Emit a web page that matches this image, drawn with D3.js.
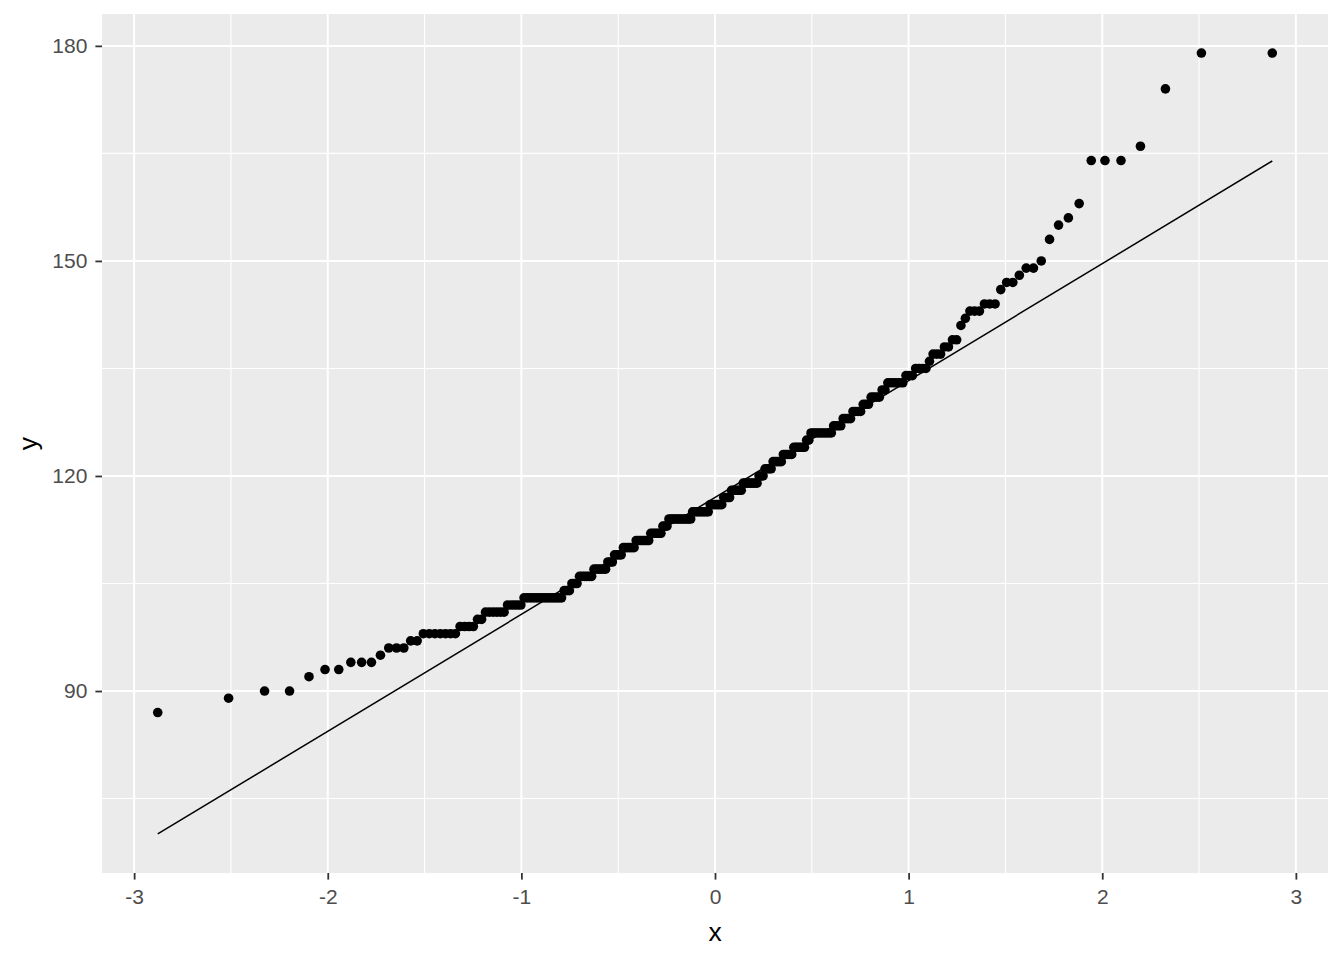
<!DOCTYPE html>
<html>
<head>
<meta charset="utf-8">
<script src="https://cdn.jsdelivr.net/npm/d3@7"></script>
<style>
  body { margin: 0; background: #ffffff; }
  svg { display: block; }
</style>
</head>
<body>
<svg id="chart" width="1344" height="960"></svg>
<script>
// ---- Data (sorted sample values) ----
const sampleValues = [
  87, 89, 90, 90, 92, 93, 93, 94, 94, 94, 95, 96, 96, 96, 97, 97,
  98, 98, 98, 98, 98, 98, 98,
  99, 99, 99, 99,
  100, 100,
  101, 101, 101, 101, 101, 101,
  102, 102, 102, 102, 102,
  103, 103, 103, 103, 103, 103, 103, 103, 103, 103, 103, 103, 103, 103,
  104, 104, 104,
  105, 105, 105,
  106, 106, 106, 106, 106, 106,
  107, 107, 107, 107, 107, 107,
  108, 108, 108,
  109, 109, 109, 109,
  110, 110, 110, 110, 110, 110,
  111, 111, 111, 111, 111, 111, 111,
  112, 112, 112, 112, 112, 112,
  113, 113, 113,
  114, 114, 114, 114, 114, 114, 114, 114, 114, 114, 114, 114,
  115, 115, 115, 115, 115, 115, 115, 115, 115,
  116, 116, 116, 116, 116, 116, 116,
  117, 117, 117, 117,
  118, 118, 118, 118, 118, 118,
  119, 119, 119, 119, 119, 119, 119, 119,
  120, 120, 120,
  121, 121, 121, 121,
  122, 122, 122, 122, 122,
  123, 123, 123, 123, 123,
  124, 124, 124, 124, 124, 124,
  125, 125,
  126, 126, 126, 126, 126, 126, 126, 126, 126, 126,
  127, 127, 127, 127,
  128, 128, 128, 128,
  129, 129, 129, 129,
  130, 130, 130,
  131, 131, 131, 131,
  132, 132,
  133, 133, 133, 133, 133, 133,
  134, 134, 134,
  135, 135, 135, 135,
  136,
  137, 137, 137,
  138, 138,
  139, 139,
  141, 142,
  143, 143, 143,
  144, 144, 144,
  146, 147, 147, 148, 149, 149, 150, 153, 155, 156, 158,
  164, 164, 164, 166, 174, 179, 179
];
const xTicks = [-3, -2, -1, 0, 1, 2, 3];
const xMinorTicks = [-2.5, -1.5, -0.5, 0.5, 1.5, 2.5];
const yTicks = [90, 120, 150, 180];
const yMinorTicks = [75, 105, 135, 165];
const xTitle = "x";
const yTitle = "y";

// ---- Inverse standard normal CDF (theoretical quantiles for the QQ plot) ----
function qnorm(p) {
  const a = [-3.969683028665376e+01, 2.209460984245205e+02, -2.759285104469687e+02,
             1.383577518672690e+02, -3.066479806614716e+01, 2.506628277459239e+00];
  const b = [-5.447609879822406e+01, 1.615858368580409e+02, -1.556989798598866e+02,
             6.680131188771972e+01, -1.328068155288572e+01];
  const c = [-7.784894002430293e-03, -3.223964580411365e-01, -2.400758277161838e+00,
             -2.549732539343734e+00, 4.374664141464968e+00, 2.938163982698783e+00];
  const d = [7.784695709041462e-03, 3.224671290700398e-01, 2.445134137142996e+00,
             3.754408661907416e+00];
  const pl = 0.02425, ph = 1 - pl;
  let q, r;
  if (p < pl) {
    q = Math.sqrt(-2 * Math.log(p));
    return (((((c[0]*q+c[1])*q+c[2])*q+c[3])*q+c[4])*q+c[5]) /
           ((((d[0]*q+d[1])*q+d[2])*q+d[3])*q+1);
  }
  if (p > ph) {
    q = Math.sqrt(-2 * Math.log(1 - p));
    return -(((((c[0]*q+c[1])*q+c[2])*q+c[3])*q+c[4])*q+c[5]) /
            ((((d[0]*q+d[1])*q+d[2])*q+d[3])*q+1);
  }
  q = p - 0.5; r = q * q;
  return (((((a[0]*r+a[1])*r+a[2])*r+a[3])*r+a[4])*r+a[5])*q /
         (((((b[0]*r+b[1])*r+b[2])*r+b[3])*r+b[4])*r+1);
}

const sorted = sampleValues.slice().sort((u, v) => u - v);
const n = sorted.length;
const points = sorted.map((v, i) => ({ x: qnorm((i + 0.5) / n), y: v }));

// QQ line through the quartiles
const q1 = d3.quantile(sorted, 0.25), q3 = d3.quantile(sorted, 0.75);
const z1 = qnorm(0.25), z3 = qnorm(0.75);
const slope = (q3 - q1) / (z3 - z1);
const intercept = q1 - slope * z1;
const xMin = d3.min(points, d => d.x), xMax = d3.max(points, d => d.x);
const linePts = [xMin, xMax].map(x => ({ x: x, y: intercept + slope * x }));

// ---- Layout ----
const W = 1344, H = 960;
const panel = { left: 102, right: 1328, top: 14, bottom: 873 };

function expand(lo, hi) { const e = (hi - lo) * 0.05; return [lo - e, hi + e]; }
const xDom = expand(xMin, xMax);
const yLo = Math.min(d3.min(points, d => d.y), d3.min(linePts, d => d.y));
const yHi = Math.max(d3.max(points, d => d.y), d3.max(linePts, d => d.y));
const yDom = expand(yLo, yHi);

const x = d3.scaleLinear().domain(xDom).range([panel.left, panel.right]);
const y = d3.scaleLinear().domain(yDom).range([panel.bottom, panel.top]);

const svg = d3.select("#chart");
const font = "'Liberation Sans', Arial, Helvetica, sans-serif";

svg.append("rect").attr("width", W).attr("height", H).attr("fill", "#ffffff");

svg.append("rect")
  .attr("x", panel.left).attr("y", panel.top)
  .attr("width", panel.right - panel.left).attr("height", panel.bottom - panel.top)
  .attr("fill", "#EBEBEB");

const grid = svg.append("g");
grid.selectAll(".xminor").data(xMinorTicks).enter().append("line")
  .attr("x1", d => x(d)).attr("x2", d => x(d))
  .attr("y1", panel.top).attr("y2", panel.bottom)
  .attr("stroke", "#ffffff").attr("stroke-width", 1.1);
grid.selectAll(".yminor").data(yMinorTicks).enter().append("line")
  .attr("y1", d => y(d)).attr("y2", d => y(d))
  .attr("x1", panel.left).attr("x2", panel.right)
  .attr("stroke", "#ffffff").attr("stroke-width", 1.1);
grid.selectAll(".xmajor").data(xTicks).enter().append("line")
  .attr("x1", d => x(d)).attr("x2", d => x(d))
  .attr("y1", panel.top).attr("y2", panel.bottom)
  .attr("stroke", "#ffffff").attr("stroke-width", 2);
grid.selectAll(".ymajor").data(yTicks).enter().append("line")
  .attr("y1", d => y(d)).attr("y2", d => y(d))
  .attr("x1", panel.left).attr("x2", panel.right)
  .attr("stroke", "#ffffff").attr("stroke-width", 2);

// Axes (plain hyphen-minus in labels, as in the reference)
const fmt = d => String(d);
const xAxis = d3.axisBottom(x).tickValues(xTicks).tickFormat(fmt)
  .tickSize(6.6).tickPadding(9.5);
const yAxis = d3.axisLeft(y).tickValues(yTicks).tickFormat(fmt)
  .tickSize(6.6).tickPadding(7);

const gx = svg.append("g").attr("transform", `translate(0,${panel.bottom})`).call(xAxis);
const gy = svg.append("g").attr("transform", `translate(${panel.left},0)`).call(yAxis);
[gx, gy].forEach(g => {
  g.select(".domain").remove();
  g.selectAll(".tick line").attr("stroke", "#333333").attr("stroke-width", 1.8);
  g.selectAll(".tick text").attr("fill", "#4D4D4D")
    .style("font-family", font).style("font-size", "21px");
});
gy.selectAll(".tick text").attr("dx", "-1");

// QQ line
svg.append("path")
  .datum(linePts)
  .attr("d", d3.line().x(d => x(d.x)).y(d => y(d.y)))
  .attr("fill", "none").attr("stroke", "#000000").attr("stroke-width", 1.5);

// Points
svg.append("g").selectAll("circle").data(points).enter().append("circle")
  .attr("cx", d => x(d.x)).attr("cy", d => y(d.y)).attr("r", 4.8)
  .attr("fill", "#000000");

// Titles
svg.append("text")
  .attr("x", (panel.left + panel.right) / 2).attr("y", 941)
  .attr("text-anchor", "middle").attr("fill", "#000000")
  .style("font-family", font).style("font-size", "26.5px")
  .text(xTitle);
svg.append("text")
  .attr("transform", `translate(37,${(panel.top + panel.bottom) / 2}) rotate(-90)`)
  .attr("text-anchor", "middle").attr("fill", "#000000")
  .style("font-family", font).style("font-size", "26.5px")
  .text(yTitle);
</script>
</body>
</html>
